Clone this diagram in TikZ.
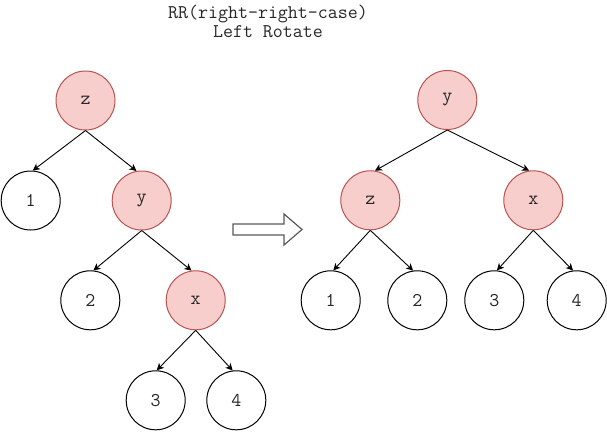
\documentclass[tikz,border=0pt]{standalone}
\usepackage{fontspec}
\usetikzlibrary{arrows.meta}
\definecolor{avlFill}{HTML}{F8CECC}
\definecolor{avlLine}{HTML}{B85450}
\tikzset{
  avlnode/.style={
    draw, circle, minimum size=59pt, inner sep=0pt, line width=1pt,
    font=\ttfamily\fontsize{19.4}{21}\selectfont, text=black!85
  },
  leaf/.style={avlnode, fill=white, draw=black},
  pivot/.style={avlnode, fill=avlFill, draw=avlLine},
  edge/.style={-{Stealth[length=7pt,width=7pt,inset=2pt]}, line width=0.9pt},
  blockarrow/.style={draw=black!65, fill=white, line width=1.2pt},
  caption/.style={font=\ttfamily\fontsize{19.4}{19}\selectfont, align=center, text=black!85}
}
\begin{document}
\begin{tikzpicture}[x=1pt, y=-1pt]
  \useasboundingbox (0,0) rectangle (607,431);
  \node[caption] (title) at (268,21.5) {RR(right-right-case)\\Left Rotate};
  % before rotation
  \node[pivot] (zL) at (85.5,100.5) {z};
  \node[leaf] (oneL) at (30.7,200.5) {1};
  \node[pivot] (yL) at (141.7,200.5) {y};
  \node[leaf] (twoL) at (90.3,300.3) {2};
  \node[pivot] (xL) at (195.7,300.3) {x};
  \node[leaf] (threeL) at (155.7,400.3) {3};
  \node[leaf] (fourL) at (236.3,400.3) {4};
  % after rotation
  \node[pivot] (yR) at (447.3,100) {y};
  \node[pivot] (zR) at (370.3,200.3) {z};
  \node[pivot] (xR) at (533.3,200.3) {x};
  \node[leaf] (oneR) at (330.7,300.3) {1};
  \node[leaf] (twoR) at (417.3,300.3) {2};
  \node[leaf] (threeR) at (494.3,300.3) {3};
  \node[leaf] (fourR) at (576.7,300.3) {4};
  \foreach \p/\c/\a in {zL/oneL/86, zL/yL/100, yL/twoL/84, yL/xL/98, xL/threeL/88, xL/fourL/97,
                        yR/zR/81, yR/xR/98, zR/oneR/85, zR/twoR/98, xR/threeR/85, xR/fourR/97}{
    \draw[edge] (\p.south) -- (\c.\a);
  }
  % rotate arrow
  \draw[blockarrow] (233,224) -- (284,224) -- (284,214) -- (302,229.5)
    -- (284,245) -- (284,235) -- (233,235) -- cycle;
\end{tikzpicture}
\end{document}
